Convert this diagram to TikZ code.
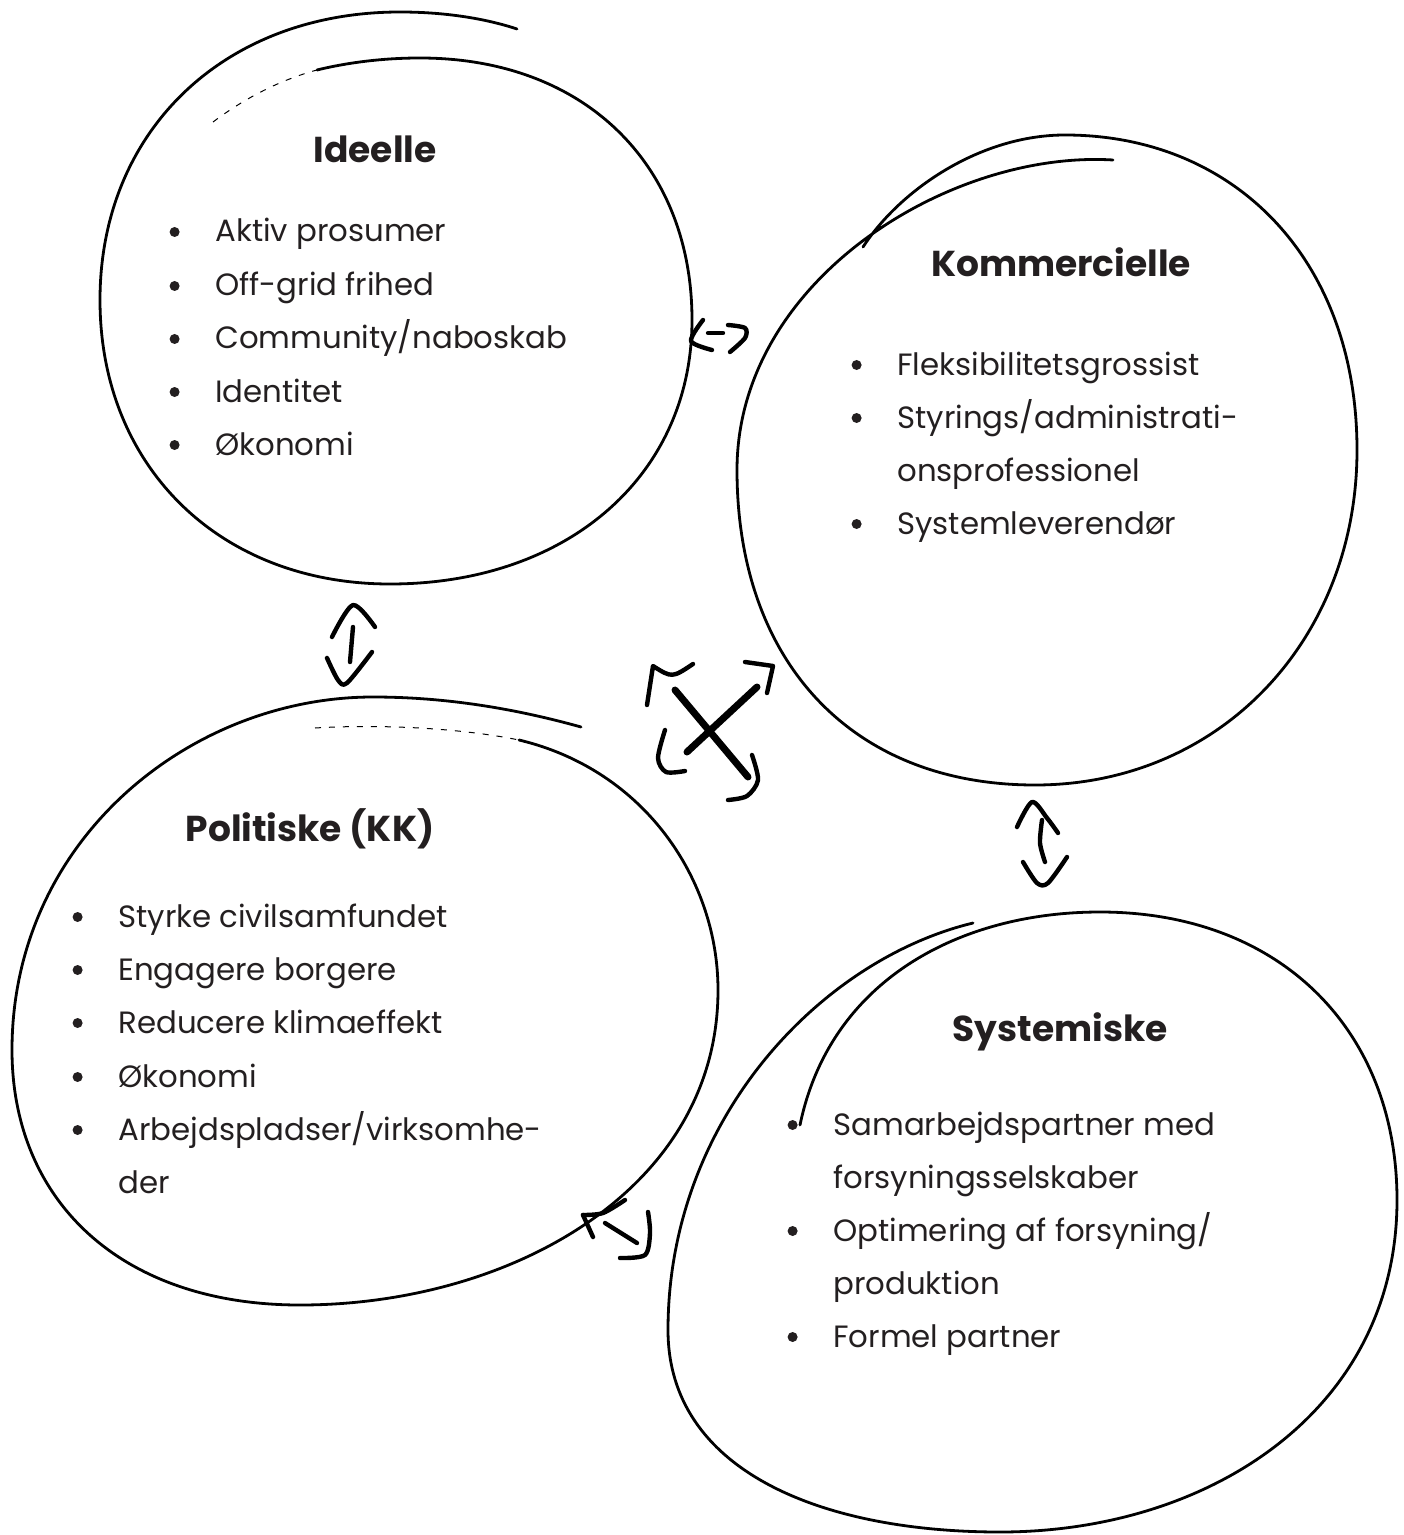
\documentclass[tikz,border=0pt]{standalone}
\usepackage{fontspec}
\setmainfont{Poppins}
\usepackage{tikz}

\definecolor{ink}{HTML}{231F20}
\newcommand\titlefont{\fontsize{18}{22}\selectfont\bfseries}
\newcommand\entryfont{\fontsize{15.4}{18}\selectfont}

\begin{document}
\begin{tikzpicture}[x=0.5pt, y=-0.5pt,
  rim/.style={line width=1.4pt, line cap=round, line join=round},
  faint/.style={line width=0.5pt, dash pattern=on 3pt off 4pt},
  stroke/.style={line width=2.2pt, line cap=round, line join=round},
  title/.style={font=\titlefont, text=ink, inner sep=0pt, anchor=base},
  entry/.style={font=\entryfont, text=ink, inner sep=0pt, anchor=base west, text height=12pt, text depth=2pt},
  dot/.style={circle, fill=ink, inner sep=0pt, minimum size=5pt},
  bullet/.style={label={[dot, label distance=17.5pt]left:{}}}]

 \useasboundingbox (0,0) rectangle (1403,1535);

 %%%  circles

 % ideelle
 \draw[faint] (213,122) .. controls (245,98) and (280,80) .. (317,70);
 \draw[rim] (317,70) .. controls (350,62) and (385,58) .. (420,58)
   .. controls (585,58) and (692,165) .. (692,320)
   .. controls (692,476) and (567,584) .. (390,584)
   .. controls (220,584) and (100,467) .. (100,300)
   .. controls (100,131) and (224,12) .. (400,12)
   .. controls (450,12) and (490,20) .. (517,29);

 % kommercielle
 \draw[rim] (1113,160) .. controls (950,150) and (737,280) .. (737,470)
   .. controls (737,660) and (850,785) .. (1035,785)
   .. controls (1220,785) and (1357,640) .. (1357,450)
   .. controls (1357,260) and (1235,135) .. (1065,135)
   .. controls (980,135) and (900,190) .. (863,247);

 % politiske
 \draw[faint] (315,728) .. controls (380,724) and (460,728) .. (519,740);
 \draw[rim] (519,740) .. controls (645,770) and (718,880) .. (718,990)
   .. controls (718,1190) and (510,1305) .. (300,1305)
   .. controls (120,1305) and (12,1200) .. (12,1050)
   .. controls (12,840) and (190,697) .. (373,697)
   .. controls (450,697) and (520,710) .. (581,727);

 % systemiske
 \draw[rim] (800,1125) .. controls (830,980) and (960,912) .. (1100,912)
   .. controls (1280,912) and (1397,1030) .. (1397,1200)
   .. controls (1397,1410) and (1210,1532) .. (1000,1532)
   .. controls (820,1532) and (668,1470) .. (668,1330)
   .. controls (668,1120) and (820,960) .. (973,923);

 %%%  nodes

 % ideelle
 \node[title] (ide) at (375,163) {Ideelle};
 \node[entry, bullet] (ide1) at (215,242) {Aktiv prosumer};
 \node[entry, bullet] (ide2) at (215,296) {Off-grid frihed};
 \node[entry, bullet] (ide3) at (215,349) {Community/naboskab};
 \node[entry, bullet] (ide4) at (215,402) {Identitet};
 \node[entry, bullet] (ide5) at (215,455) {Økonomi};

 % kommercielle
 \node[title] (kom) at (1061,277) {Kommercielle};
 \node[entry, bullet] (kom1) at (897,375) {Fleksibilitetsgrossist};
 \node[entry, bullet] (kom2) at (897,428) {Styrings/administrati-};
 \node[entry] (kom2b) at (897,481) {onsprofessionel};
 \node[entry, bullet] (kom3) at (897,534) {Systemleverendør};

 % politiske
 \node[title] (pol) at (310,841) {Politiske (KK)};
 \node[entry, bullet] (pol1) at (118,927) {Styrke civilsamfundet};
 \node[entry, bullet] (pol2) at (118,980) {Engagere borgere};
 \node[entry, bullet] (pol3) at (118,1033) {Reducere klimaeffekt};
 \node[entry, bullet] (pol4) at (118,1087) {Økonomi};
 \node[entry, bullet] (pol5) at (118,1140) {Arbejdspladser/virksomhe-};
 \node[entry] (pol5b) at (118,1193) {der};

 % systemiske
 \node[title] (sys) at (1060,1041) {Systemiske};
 \node[entry, bullet] (sys1) at (833,1135) {Samarbejdspartner med};
 \node[entry] (sys1b) at (833,1188) {forsyningsselskaber};
 \node[entry, bullet] (sys2) at (833,1241) {Optimering af forsyning/};
 \node[entry] (sys2b) at (833,1294) {produktion};
 \node[entry, bullet] (sys3) at (833,1347) {Formel partner};

 %%%  arrows

 % ideelle - kommercielle
 \draw[stroke] plot[smooth] coordinates {(703,320) (691,341) (712,350)};
 \draw[stroke] (708,333) -- (723,333);
 \draw[stroke] plot[smooth] coordinates {(728,325) (745,328) (745,338) (730,352)};

 % ideelle - politiske
 \draw[stroke] plot[smooth] coordinates {(332,637) (353,605) (375,627)};
 \draw[stroke] (353,627) -- (350,662);
 \draw[stroke] plot[smooth] coordinates {(327,658) (338,680) (347,683) (372,652)};

 % kommercielle - systemiske
 \draw[stroke] plot[smooth] coordinates {(1017,827) (1032,802) (1047,818) (1058,833)};
 \draw[stroke] plot[smooth] coordinates {(1042,820) (1040,843) (1045,862)};
 \draw[stroke] plot[smooth] coordinates {(1023,862) (1037,883) (1048,883) (1067,857)};

 % politiske - systemiske
 \draw[stroke] plot[smooth] coordinates {(625,1200) (603,1213) (583,1215)};
 \draw[stroke] (583,1215) -- (593,1237);
 \draw[stroke] (605,1223) -- (637,1243);
 \draw[stroke] plot[smooth] coordinates {(648,1212) (650,1233) (645,1255) (620,1258)};

 % kryds
 \draw[stroke, line width=3.5pt] (675,690) -- (748,777);
 \draw[stroke, line width=3.5pt] (687,752) -- (757,687);
 \draw[stroke] (647,705) -- (653,666) .. controls (672,678) .. (693,664);
 \draw[stroke] (745,662) -- (773,666) -- (767,693);
 \draw[stroke] plot[smooth] coordinates {(665,730) (658,758) (666,772) (685,771)};
 \draw[stroke] plot[smooth] coordinates {(752,755) (758,780) (747,796) (728,800)};

\end{tikzpicture}
\end{document}
